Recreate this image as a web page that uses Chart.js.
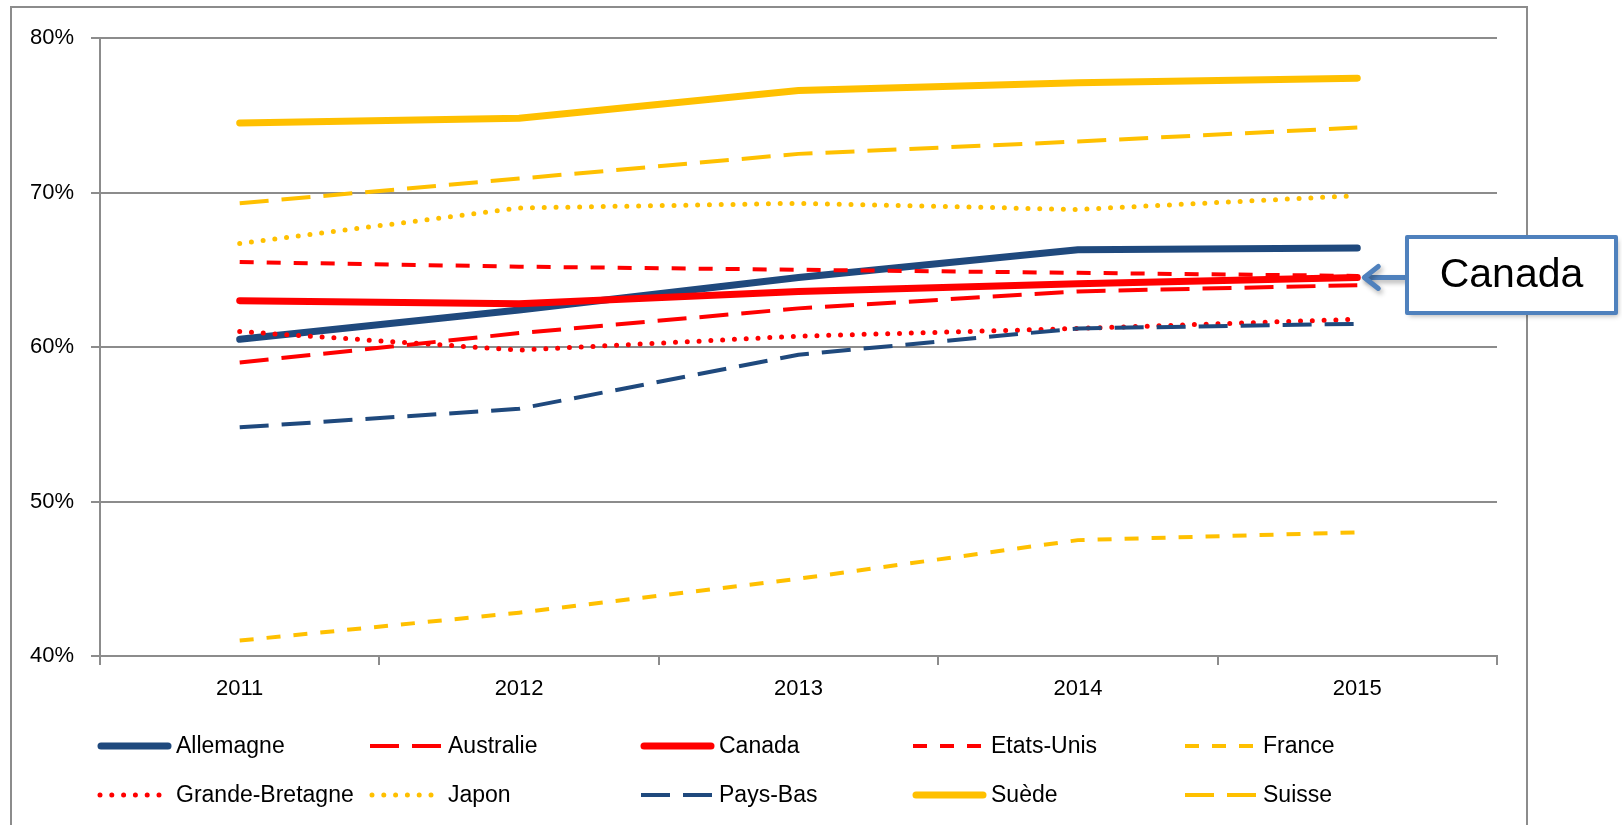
<!DOCTYPE html>
<html>
<head>
    <title>Taux d'emploi 2011-2015</title>
    <script src="https://cdn.jsdelivr.net/npm/chart.js"></script>
    <style>
        body { margin: 0; background: #fff; }
        canvas { display: block; }
    </style>
</head>
<body>
    <canvas id="empChart" width="1622" height="825"></canvas>

    <script>
        // categories and series (values in %)
        const years = ['2011', '2012', '2013', '2014', '2015'];
        const allemagne = [60.5, 62.4, 64.5, 66.3, 66.4];
        const australie = [59.0, 60.9, 62.5, 63.6, 64.0];
        const canada = [63.0, 62.8, 63.6, 64.1, 64.5];
        const etatsUnis = [65.5, 65.2, 65.0, 64.8, 64.6];
        const france = [41.0, 42.8, 45.0, 47.5, 48.0];
        const grandeBretagne = [61.0, 59.8, 60.7, 61.2, 61.8];
        const japon = [66.7, 69.0, 69.3, 68.9, 69.8];
        const paysBas = [54.8, 56.0, 59.5, 61.2, 61.5];
        const suede = [74.5, 74.8, 76.6, 77.1, 77.4];
        const suisse = [69.3, 70.9, 72.5, 73.3, 74.2];
        const yMin = 40, yMax = 80, yStep = 10;
        const calloutText = 'Canada';

        const BLUE = '#1F497D';
        const RED = '#FF0000';
        const GOLD = '#FFC000';
        const GRID = '#8C8C8C';

        // line styles, roughly like the Excel ones
        const SOLID = { borderWidth: 7, borderDash: [], borderCapStyle: 'round' };
        const LONG = { borderWidth: 4, borderDash: [29, 13], borderCapStyle: 'butt' };
        const SHORT = { borderWidth: 4, borderDash: [14, 13], borderCapStyle: 'butt' };
        const DOT = { borderWidth: 5, borderDash: [0, 11.8], borderCapStyle: 'round' };

        const series = [
            ['Allemagne', allemagne, BLUE, SOLID],
            ['Australie', australie, RED, LONG],
            ['Canada', canada, RED, SOLID],
            ['Etats-Unis', etatsUnis, RED, SHORT],
            ['France', france, GOLD, SHORT],
            ['Grande-Bretagne', grandeBretagne, RED, DOT],
            ['Japon', japon, GOLD, DOT],
            ['Pays-Bas', paysBas, BLUE, LONG],
            ['Suède', suede, GOLD, SOLID],
            ['Suisse', suisse, GOLD, LONG]
        ];

        const datasets = series.map((s, i) => ({
            label: s[0],
            data: s[1],
            borderColor: s[2],
            backgroundColor: s[2],
            ...s[3],
            borderJoinStyle: 'round',
            pointRadius: 0,
            tension: 0,
            fill: false,
            order: series.length - i   // later series on top, like Excel
        }));

        // outer frame of the chart object
        const framePlugin = {
            id: 'frame',
            beforeDraw(chart) {
                const c = chart.ctx;
                c.save();
                c.strokeStyle = GRID;
                c.lineWidth = 2;
                c.strokeRect(11, 7, 1516, 840);
                c.restore();
            }
        };

        // legend in 5 columns x 2 rows
        const legendPlugin = {
            id: 'gridLegend',
            afterDraw(chart) {
                const c = chart.ctx;
                const colX = [98, 370, 641, 913, 1185];
                const rowY = [746, 795];
                c.save();
                c.font = "23px 'Liberation Sans', Arial, sans-serif";
                c.fillStyle = '#000';
                c.textBaseline = 'middle';
                chart.data.datasets.forEach((ds, i) => {
                    const x = colX[i % 5];
                    const y = rowY[Math.floor(i / 5)];
                    c.strokeStyle = ds.borderColor;
                    c.lineWidth = ds.borderWidth;
                    c.lineCap = ds.borderCapStyle;
                    c.setLineDash(ds.borderDash);
                    c.beginPath();
                    if (ds.borderCapStyle === 'round' && ds.borderDash.length === 0) {
                        c.moveTo(x + 3, y); c.lineTo(x + 70, y);
                    } else if (ds.borderDash[0] === 0) {
                        c.moveTo(x + 2, y); c.lineTo(x + 66, y);
                    } else {
                        c.moveTo(x, y); c.lineTo(x + 72, y);
                    }
                    c.stroke();
                    c.setLineDash([]);
                    c.fillText(ds.label, x + 78, y + 1);
                });
                c.restore();
            }
        };

        // "Canada" callout box with arrow to the last Canada point
        const calloutPlugin = {
            id: 'callout',
            afterDraw(chart) {
                const c = chart.ctx;
                const xs = chart.scales.x, ys = chart.scales.y;
                const last = canada.length - 1;
                const tipX = xs.getPixelForValue(last) + 6;
                const tipY = ys.getPixelForValue(canada[last]);
                const bx = 1407, by = 237, bw = 209, bh = 76;
                c.save();
                c.strokeStyle = '#4F81BD';
                c.lineWidth = 5;
                c.lineCap = 'round';
                c.lineJoin = 'round';
                c.shadowColor = 'rgba(0,0,0,0.3)';
                c.shadowBlur = 5;
                c.shadowOffsetX = 2;
                c.shadowOffsetY = 3;
                // arrow
                c.beginPath();
                c.moveTo(bx, tipY);
                c.lineTo(tipX + 2, tipY);
                c.stroke();
                c.beginPath();
                c.moveTo(tipX + 15, tipY - 11);
                c.lineTo(tipX + 1, tipY);
                c.lineTo(tipX + 15, tipY + 11);
                c.stroke();
                // box
                c.fillStyle = '#fff';
                c.fillRect(bx, by, bw, bh);
                c.shadowColor = 'transparent';
                c.lineWidth = 4;
                c.strokeRect(bx, by, bw, bh);
                c.fillStyle = '#000';
                c.font = "41px 'Liberation Sans', Arial, sans-serif";
                c.textAlign = 'center';
                c.textBaseline = 'middle';
                c.fillText(calloutText, bx + bw / 2, by + bh / 2 + 1);
                c.restore();
            }
        };

        Chart.defaults.font.family = "'Liberation Sans', Arial, sans-serif";
        Chart.defaults.font.size = 22;
        Chart.defaults.color = '#000';

        const ctx = document.getElementById('empChart').getContext('2d');
        const chart = new Chart(ctx, {
            type: 'line',
            data: { labels: years, datasets: datasets },
            options: {
                responsive: false,
                animation: false,
                devicePixelRatio: 1,
                layout: { padding: { left: 0, right: 125, top: 38, bottom: 109 } },
                plugins: {
                    legend: { display: false },
                    tooltip: { enabled: false }
                },
                scales: {
                    x: {
                        offset: true,
                        afterFit: (scale) => { scale.height = 60; },
                        grid: {
                            offset: true,
                            drawOnChartArea: false,
                            drawTicks: true,
                            tickLength: 9,
                            color: GRID,
                            lineWidth: 2
                        },
                        border: { color: GRID, width: 2 },
                        ticks: { padding: 11, maxRotation: 0 }
                    },
                    y: {
                        min: yMin,
                        max: yMax,
                        afterFit: (scale) => { scale.width = 100; },
                        grid: {
                            color: GRID,
                            lineWidth: 2,
                            tickLength: 9
                        },
                        border: { color: GRID, width: 2 },
                        ticks: {
                            stepSize: yStep,
                            padding: 17,
                            callback: (v) => v + '%'
                        }
                    }
                }
            },
            plugins: [framePlugin, legendPlugin, calloutPlugin]
        });
    </script>
</body>
</html>
